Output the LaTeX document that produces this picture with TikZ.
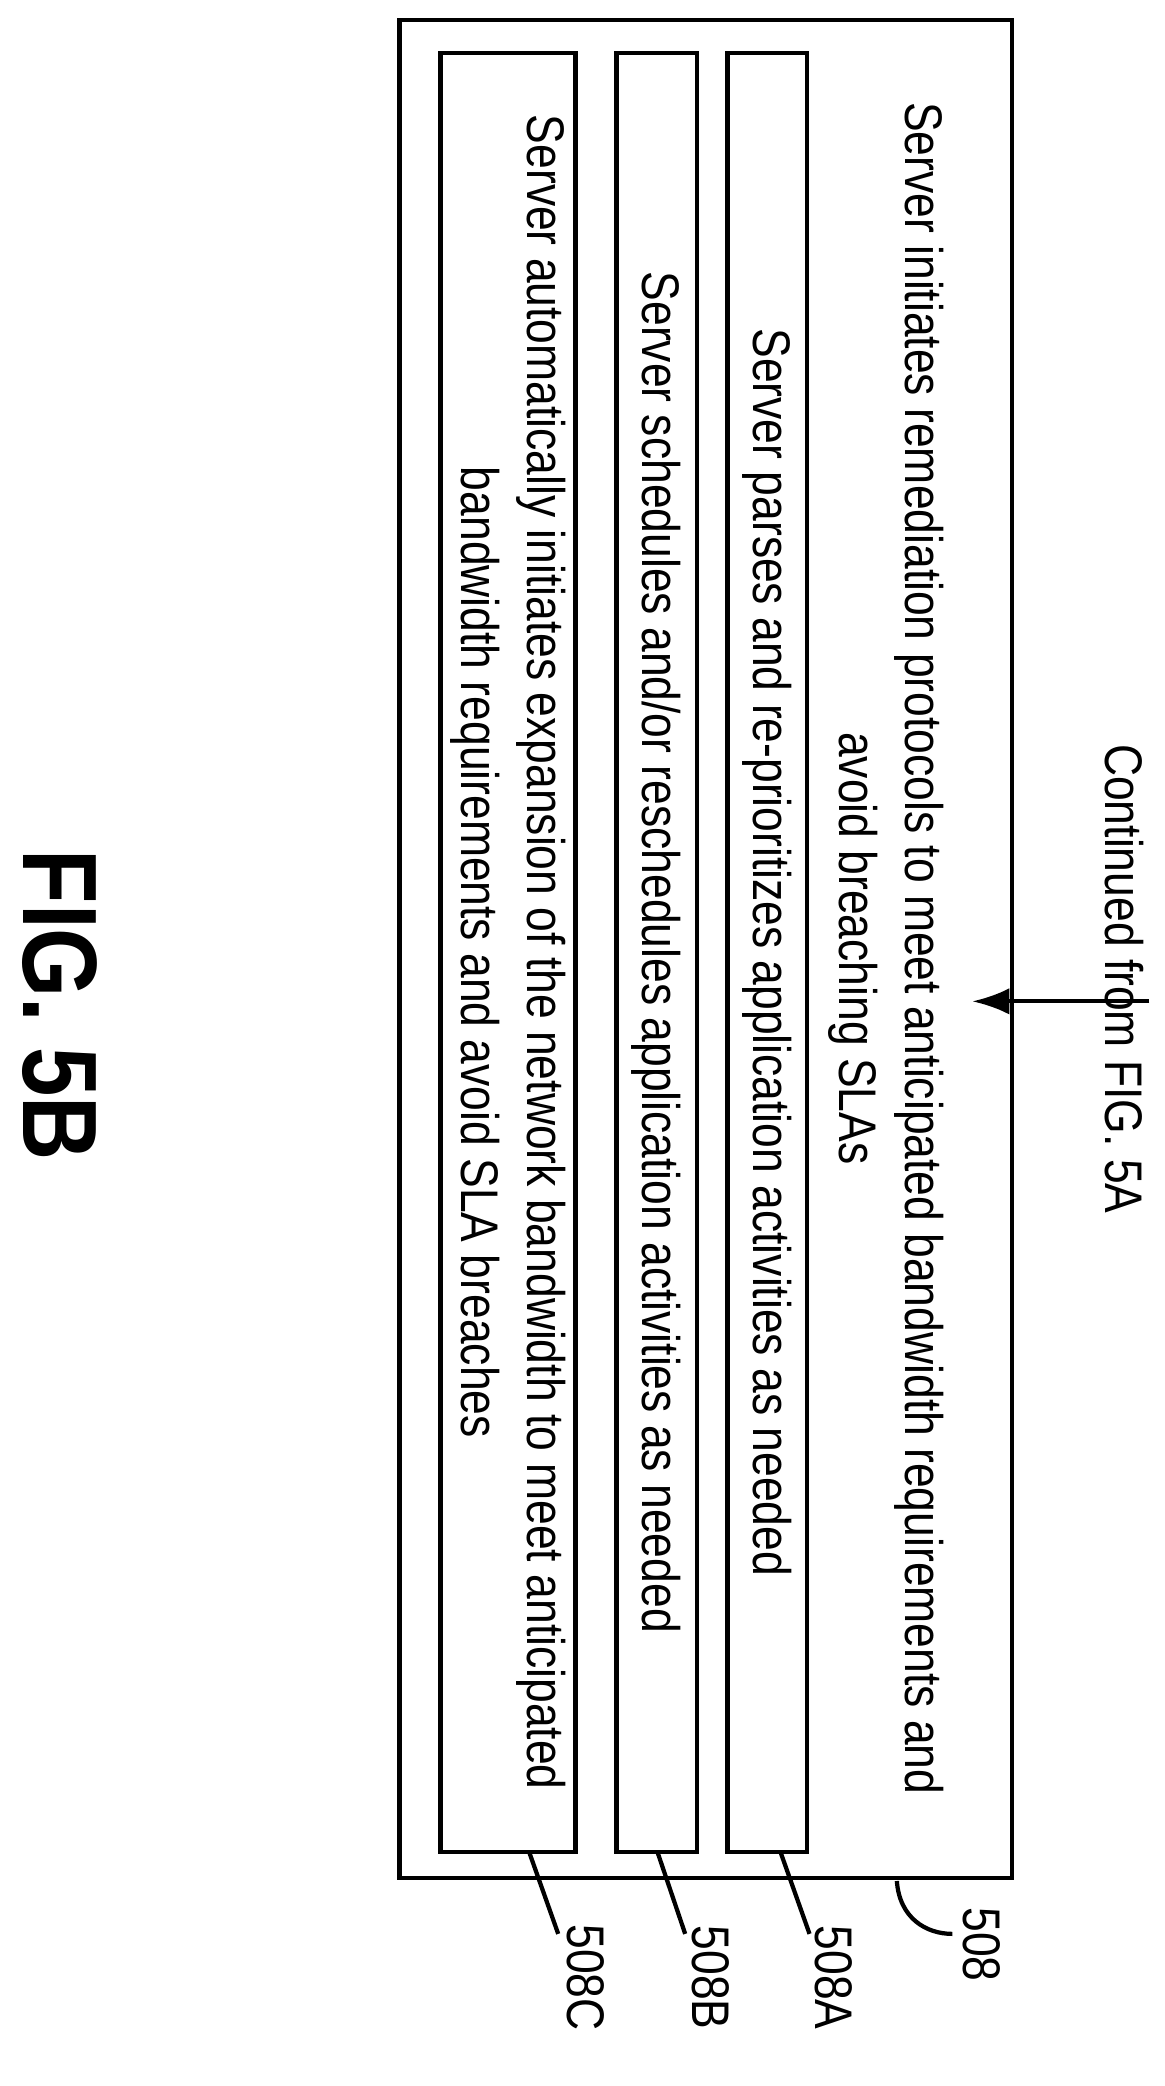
\documentclass[tikz,border=0pt]{standalone}
\usepackage{fontspec}
\usetikzlibrary{arrows.meta}
\setmainfont[FakeStretch=0.84]{Liberation Sans}
\begin{document}
\begin{tikzpicture}[x=0.5pt,y=-0.5pt,line width=1.6pt,
  box/.style={draw,line width=1.6pt},
  txt/.style={rotate=-90,align=center,font=\fontsize{20}{25}\selectfont},
  lbl/.style={rotate=-90,font=\fontsize{20}{24}\selectfont}]
\useasboundingbox (0,0) rectangle (880,1577);
\draw[box] (302,15) rectangle (765,1420);
\draw[box] (550,40) rectangle (610,1400);
\draw[box] (466,40) rectangle (527,1400);
\draw[box] (333,40) rectangle (435,1400);
\node[txt] (t508) at (670,717) {Server initiates remediation protocols to meet anticipated bandwidth requirements and\\avoid breaching SLAs};
\node[txt] (tA) at (580,720) {Server parses and re-prioritizes application activities as needed};
\node[txt] (tB) at (496,720) {Server schedules and/or reschedules application activities as needed};
\node[txt] (tC) at (384,720) {Server automatically initiates expansion of the network bandwidth to meet anticipated\\bandwidth requirements and avoid SLA breaches};
\node[lbl] (cont) at (850,740) {Continued from FIG. 5A};
\coordinate (ae) at (735,757);
\draw[-{Latex[length=14pt,width=10pt]}] (cont.north |- ae) ++(-4,0) -- (ae);
\node[lbl] (l508) at (742,1470) {508};
\node[lbl] (lA) at (630,1495) {508A};
\node[lbl] (lB) at (537,1495) {508B};
\node[lbl] (lC) at (443,1495) {508C};
\draw (678,1422) .. controls (680,1450) and (700,1462) .. (720,1462);
\draw (590,1400) -- (612,1462);
\draw (497,1400) -- (518,1462);
\draw (400,1400) -- (422,1462);
\node[rotate=-90,font=\bfseries\fontsize{40}{48}\selectfont] (fig) at (45,760) {FIG. 5B};
\end{tikzpicture}
\end{document}
